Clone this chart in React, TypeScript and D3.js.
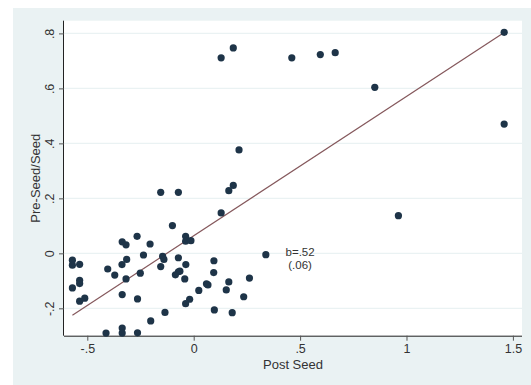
import { useEffect, useRef } from "react";
import * as d3 from "d3";

// Post Seed (x) values
const postSeed = [
	1.459, 1.459, 0.962, 0.851, 0.665, 0.595, 0.461, 0.186, 0.129, 0.213,
	0.186, 0.165, 0.129, -0.155, -0.072, -0.1, -0.038, -0.038, -0.013, 0.339,
	-0.266, -0.205, -0.336, -0.318, -0.236, -0.315, -0.337, -0.404, -0.371, -0.318,
	-0.251, -0.336, -0.264, -0.202, -0.135, -0.412, -0.336, -0.336, -0.264, -0.57,
	-0.57, -0.536, -0.536, -0.536, -0.57, -0.536, -0.512, -0.146, -0.14, -0.155,
	-0.072, -0.037, -0.072, -0.065, -0.086, -0.042, 0.095, 0.094, 0.06, 0.067,
	0.024, -0.019, -0.038, 0.165, 0.153, 0.262, 0.235, 0.097, 0.181,
];

// Pre-Seed/Seed (y) values, same order
const preSeed = [
	0.804, 0.47, 0.137, 0.604, 0.73, 0.723, 0.711, 0.747, 0.711, 0.376,
	0.247, 0.228, 0.147, 0.222, 0.222, 0.101, 0.062, 0.044, 0.046, -0.005,
	0.062, 0.034, 0.042, 0.031, -0.006, -0.022, -0.041, -0.057, -0.079, -0.093,
	-0.072, -0.15, -0.166, -0.246, -0.215, -0.29, -0.272, -0.29, -0.289, -0.025,
	-0.043, -0.04, -0.098, -0.11, -0.126, -0.174, -0.163, -0.011, -0.022, -0.048,
	-0.016, -0.041, -0.067, -0.065, -0.078, -0.093, -0.027, -0.07, -0.111, -0.115,
	-0.135, -0.167, -0.183, -0.104, -0.133, -0.09, -0.158, -0.206, -0.216,
];

const xTicks = [-0.5, 0, 0.5, 1, 1.5];
const xTickLabels = ["-.5", "0", ".5", "1", "1.5"];
const yTicks = [-0.2, 0, 0.2, 0.4, 0.6, 0.8];
const yTickLabels = ["-.2", "0", ".2", ".4", ".6", ".8"];

// fitted line as drawn
const fitIntercept = 0.064;
const fitSlope = 0.507;
const noteLines = ["b=.52", "(.06)"];
const noteAt = { x: 0.5, y: 0 };

const font = "'Liberation Sans', Arial, sans-serif";
const textColor = "#333333";

const ScatterChart = () => {
	const svgRef = useRef<SVGSVGElement>(null);

	useEffect(() => {
		if (!svgRef.current) return;

		const width = 531;
		const height = 385;
		const plot = { left: 64, top: 20.7, right: 522, bottom: 335.7 };

		const svg = d3.select(svgRef.current);
		svg.selectAll("*").remove();

		// outer graph region
		svg.append("rect").attr("width", width).attr("height", height).attr("fill", "#ffffff");
		svg
			.append("rect")
			.attr("x", 13)
			.attr("y", 8)
			.attr("width", width - 13)
			.attr("height", height - 8)
			.attr("fill", "#eaf2f3");

		// plot region
		svg
			.append("rect")
			.attr("x", plot.left)
			.attr("y", plot.top)
			.attr("width", plot.right - plot.left)
			.attr("height", plot.bottom - plot.top)
			.attr("fill", "#ffffff");

		const x = d3.scaleLinear().domain([-0.6095, 1.5428]).range([plot.left, plot.right]);
		const y = d3.scaleLinear().domain([-0.2996, 0.8462]).range([plot.bottom, plot.top]);

		// gridlines
		svg
			.append("g")
			.selectAll("line")
			.data(yTicks)
			.enter()
			.append("line")
			.attr("x1", plot.left)
			.attr("x2", plot.right)
			.attr("y1", (d) => y(d))
			.attr("y2", (d) => y(d))
			.style("stroke", "#eaf2f3")
			.style("stroke-width", 1.2);

		// x axis
		const xAxis = svg
			.append("g")
			.attr("transform", `translate(0,${plot.bottom})`)
			.call(
				d3
					.axisBottom(x)
					.tickValues(xTicks)
					.tickSize(5)
					.tickPadding(3)
					.tickFormat((_d, i) => xTickLabels[i])
			);
		xAxis.select(".domain").attr("d", `M${plot.left},0.5H${plot.right}`).style("stroke", "#222");
		xAxis.selectAll(".tick line").style("stroke", "#555");
		xAxis
			.selectAll("text")
			.style("font-family", font)
			.style("font-size", "12.5px")
			.style("fill", textColor);

		// y axis
		const yAxis = svg
			.append("g")
			.attr("transform", `translate(${plot.left},0)`)
			.call(
				d3
					.axisLeft(y)
					.tickValues(yTicks)
					.tickSize(5)
					.tickFormat((_d, i) => yTickLabels[i])
			);
		yAxis.select(".domain").attr("d", `M-0.5,${plot.top}V${plot.bottom}`).style("stroke", "#222");
		yAxis.selectAll(".tick line").style("stroke", "#555");
		yAxis
			.selectAll("text")
			.attr("x", null)
			.attr("dy", null)
			.attr("text-anchor", "middle")
			.attr("transform", "translate(-10,0) rotate(-90)")
			.style("font-family", font)
			.style("font-size", "12.5px")
			.style("fill", textColor);

		// axis titles
		svg
			.append("text")
			.attr("x", (plot.left + plot.right) / 2)
			.attr("y", 369)
			.attr("text-anchor", "middle")
			.style("font-family", font)
			.style("font-size", "13px")
			.style("fill", textColor)
			.text("Post Seed");

		svg
			.append("text")
			.attr("transform", `translate(39.5,${(plot.top + plot.bottom) / 2}) rotate(-90)`)
			.attr("text-anchor", "middle")
			.style("font-family", font)
			.style("font-size", "13px")
			.style("fill", textColor)
			.text("Pre-Seed/Seed");

		// fitted line
		const xExtent = d3.extent(postSeed) as [number, number];
		const fitLine = d3
			.line<number>()
			.x((d) => x(d))
			.y((d) => y(fitIntercept + fitSlope * d));
		svg
			.append("path")
			.attr("d", fitLine(xExtent))
			.style("fill", "none")
			.style("stroke", "#85585c")
			.style("stroke-width", 1.2);

		// points
		svg
			.append("g")
			.selectAll("circle")
			.data(postSeed.map((v, i) => [v, preSeed[i]]))
			.enter()
			.append("circle")
			.attr("cx", (d) => x(d[0]))
			.attr("cy", (d) => y(d[1]))
			.attr("r", 3.6)
			.style("fill", "#1e3448");

		// slope note
		svg
			.append("g")
			.selectAll("text")
			.data(noteLines)
			.enter()
			.append("text")
			.attr("x", x(noteAt.x))
			.attr("y", (_d, i) => y(noteAt.y) + 2.2 + i * 13)
			.attr("text-anchor", "middle")
			.style("font-family", font)
			.style("font-size", "11.5px")
			.style("fill", textColor)
			.text((d) => d);
	}, []);

	return (
		<svg
			ref={svgRef}
			width={531}
			height={385}
			style={{ position: "absolute", left: 0, top: 0 }}
		/>
	);
};

export default function App() {
	return <ScatterChart />;
}
